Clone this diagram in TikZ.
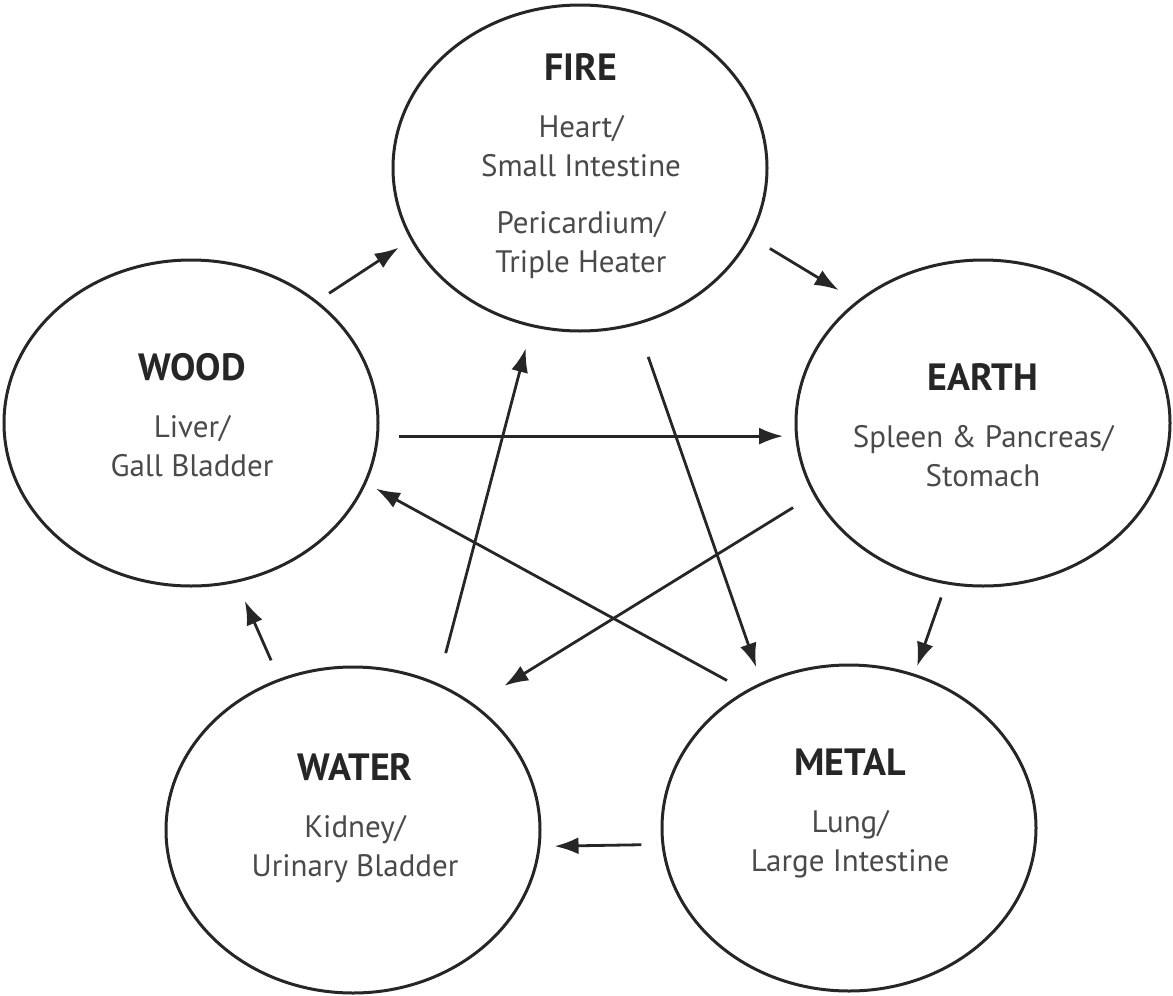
\documentclass[tikz,border=0pt]{standalone}
\usepackage{fontspec}
\setmainfont{PT Sans}
\usetikzlibrary{arrows.meta, shapes.geometric}
\usepackage{xcolor}
\definecolor{inkgray}{HTML}{262626}
\definecolor{organgray}{HTML}{4A4A4A}
\newcommand{\elname}[1]{{\fontsize{38}{39}\selectfont\bfseries\color{inkgray}#1}}

\begin{document}
\begin{tikzpicture}[x=1pt,y=-1pt,>={Latex[length=24pt,width=17pt]}]
    % styles
    \tikzset{element/.style={ellipse,draw=inkgray,line width=3pt,minimum width=374pt,minimum height=326pt,inner sep=0pt},
             organs/.style={align=center,text=organgray,font=\fontsize{31}{39}\selectfont},
             flow/.style={->,draw=inkgray,line width=2.8pt}}
    \useasboundingbox (0,0) rectangle (1173,996);

    % nodes
    \node[element] (fire)  at (580,168) {};
    \node[element] (wood)  at (191,423) {};
    \node[element] (earth) at (983,423) {};
    \node[element] (water) at (353,830) {};
    \node[element] (metal) at (849,828) {};

    % texts
    \node[organs] (fire-txt)  at (581,166) {\elname{FIRE}\\[18pt] Heart/\\ Small Intestine\\[18pt] Pericardium/\\ Triple Heater};
    \node[organs] (wood-txt)  at (192,415) {\elname{WOOD}\\[18pt] Liver/\\ Gall Bladder};
    \node[organs] (earth-txt) at (983,425) {\elname{EARTH}\\[18pt] Spleen \& Pancreas/\\ Stomach};
    \node[organs] (water-txt) at (355,818) {\elname{WATER}\\[18pt] Kidney/\\ Urinary Bladder};
    \node[organs] (metal-txt) at (850,813) {\elname{METAL}\\[18pt] Lung/\\ Large Intestine};

    % outer cycle
    \draw[flow, shorten <=14pt, shorten >=14pt] (wood.44) -- (fire.203);
    \draw[flow, shorten <=22pt, shorten >=21pt] (fire.338) -- (earth.136);
    \draw[flow, shorten <=14pt, shorten >=8pt] (earth.257) -- (metal.67);
    \draw[flow, shorten <=20pt, shorten >=14pt] (metal.185) -- (water.355);
    \draw[flow, shorten <=20pt, shorten >=20pt] (water.116) -- (wood.286);

    % star
    \draw[flow, shorten <=20pt, shorten >=12pt] (wood.356) -- (earth.184);
    \draw[flow, shorten <=24pt, shorten >=35pt] (earth.203) -- (water.46);
    \draw[flow, shorten <=31pt, shorten >=22pt] (water.60) -- (fire.253);
    \draw[flow, shorten <=34pt, shorten >=16pt] (fire.290) -- (metal.121);
    \draw[flow, shorten <=21pt, shorten >=11pt] (metal.127) -- (wood.341);
\end{tikzpicture}
\end{document}
